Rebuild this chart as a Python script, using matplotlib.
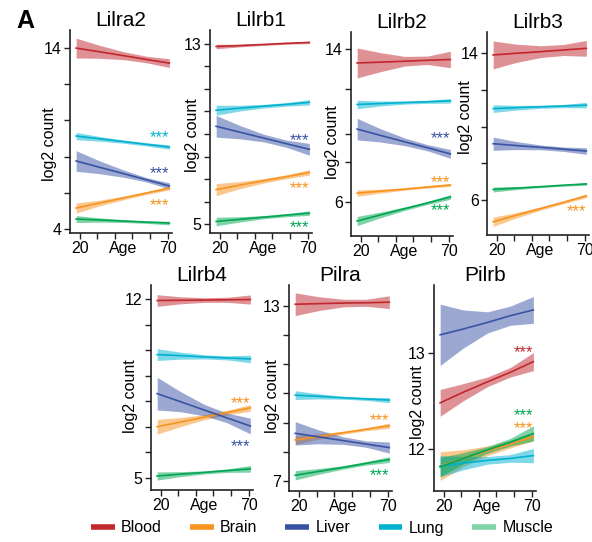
import matplotlib
matplotlib.use('Agg')
import matplotlib.pyplot as plt
from matplotlib.lines import Line2D

plt.rcParams['font.family'] = ['Liberation Sans', 'DejaVu Sans']

tissues = ['Blood', 'Brain', 'Liver', 'Lung', 'Muscle']
line_colors = ['#c1272d', '#f7931e', '#3953a4', '#00b2d0', '#00a651']
legend_colors = ['#c1272d', '#f7931e', '#3953a4', '#00b2d0', '#80d3a6']

ages = [18, 31, 45, 58, 71]

# fitted log2 count at each age, per tissue (Blood, Brain, Liver, Lung, Muscle)
# and half width of the confidence band at the same ages
lilra2_fit = [[14.0, 13.80, 13.58, 13.37, 13.17], [5.16, 5.43, 5.72, 5.99, 6.26],
              [7.76, 7.42, 7.06, 6.72, 6.38], [9.14, 8.99, 8.83, 8.68, 8.53],
              [4.55, 4.50, 4.44, 4.38, 4.33]]
lilra2_ci = [[0.55, 0.36, 0.22, 0.18, 0.24], [0.28, 0.16, 0.1, 0.08, 0.1],
             [0.57, 0.36, 0.2, 0.12, 0.17], [0.2, 0.13, 0.09, 0.09, 0.12],
             [0.19, 0.12, 0.08, 0.07, 0.1]]
lilra2_stars = {'Lung': 9.36, 'Liver': 7.37, 'Brain': 5.6}

lilrb1_fit = [[12.87, 12.91, 12.96, 13.01, 13.05], [6.54, 6.73, 6.93, 7.11, 7.3],
              [9.34, 9.09, 8.82, 8.57, 8.32], [10.05, 10.14, 10.23, 10.31, 10.4],
              [5.13, 5.22, 5.32, 5.41, 5.5]]
lilrb1_ci = [[0.1, 0.06, 0.04, 0.04, 0.05], [0.27, 0.16, 0.1, 0.09, 0.12],
             [0.48, 0.3, 0.17, 0.16, 0.26], [0.22, 0.13, 0.08, 0.08, 0.12],
             [0.19, 0.12, 0.07, 0.07, 0.1]]
lilrb1_stars = {'Liver': 8.94, 'Brain': 6.82, 'Muscle': 5.09}

lilrb2_fit = [[13.25, 13.29, 13.34, 13.39, 13.43], [6.48, 6.58, 6.69, 6.80, 6.9],
              [9.81, 9.49, 9.15, 8.84, 8.52], [11.09, 11.14, 11.19, 11.23, 11.28],
              [5.03, 5.34, 5.67, 5.97, 6.28]]
lilrb2_ci = [[0.78, 0.5, 0.25, 0.22, 0.43], [0.17, 0.1, 0.06, 0.06, 0.08],
             [0.56, 0.35, 0.2, 0.16, 0.23], [0.22, 0.13, 0.08, 0.08, 0.12],
             [0.24, 0.15, 0.09, 0.08, 0.12]]
lilrb2_stars = {'Liver': 9.6, 'Brain': 7.31, 'Muscle': 5.83}

lilrb3_fit = [[13.9, 13.99, 14.08, 14.17, 14.26], [4.82, 5.17, 5.54, 5.88, 6.23],
              [9.07, 8.97, 8.87, 8.77, 8.67], [10.98, 11.03, 11.08, 11.12, 11.17],
              [6.58, 6.65, 6.73, 6.81, 6.88]]
lilrb3_ci = [[0.76, 0.5, 0.32, 0.3, 0.43], [0.25, 0.15, 0.09, 0.08, 0.1],
             [0.36, 0.22, 0.13, 0.12, 0.18], [0.21, 0.13, 0.08, 0.09, 0.15],
             [0.14, 0.08, 0.05, 0.05, 0.07]]
lilrb3_stars = {'Brain': 5.63}

lilrb4_fit = [[11.95, 11.96, 11.97, 11.98, 11.99], [7.0, 7.18, 7.38, 7.56, 7.74],
              [8.3, 7.99, 7.65, 7.34, 7.03], [9.83, 9.79, 9.74, 9.70, 9.66],
              [5.07, 5.14, 5.21, 5.28, 5.35]]
lilrb4_ci = [[0.23, 0.14, 0.09, 0.1, 0.18], [0.29, 0.18, 0.1, 0.09, 0.13],
             [0.64, 0.4, 0.22, 0.19, 0.31], [0.23, 0.14, 0.08, 0.08, 0.15],
             [0.16, 0.1, 0.06, 0.07, 0.13]]
lilrb4_stars = {'Brain': 8.13, 'Liver': 6.43}

pilra_fit = [[13.06, 13.08, 13.10, 13.11, 13.13], [8.4, 8.52, 8.65, 8.77, 8.89],
             [8.63, 8.51, 8.38, 8.26, 8.14], [9.94, 9.90, 9.85, 9.81, 9.77],
             [7.19, 7.32, 7.46, 7.60, 7.73]]
pilra_ci = [[0.39, 0.24, 0.13, 0.12, 0.22], [0.15, 0.09, 0.05, 0.05, 0.09],
            [0.4, 0.24, 0.13, 0.11, 0.19], [0.15, 0.09, 0.05, 0.05, 0.09],
            [0.16, 0.1, 0.06, 0.06, 0.1]]
pilra_stars = {'Brain': 9.23, 'Muscle': 7.34}

pilrb_fit = [[12.48, 12.59, 12.70, 12.80, 12.91], [11.82, 11.90, 11.98, 12.05, 12.13],
             [13.19, 13.25, 13.32, 13.39, 13.45], [11.82, 11.85, 11.88, 11.90, 11.93],
             [11.81, 11.90, 11.99, 12.07, 12.16]]
pilrb_ci = [[0.14, 0.09, 0.05, 0.05, 0.094], [0.15, 0.09, 0.05, 0.04, 0.045],
            [0.32, 0.2, 0.11, 0.1, 0.14], [0.11, 0.07, 0.04, 0.04, 0.075],
            [0.1, 0.06, 0.035, 0.04, 0.08]]
pilrb_stars = {'Blood': 13.06, 'Muscle': 12.4, 'Brain': 12.27}

# y ticks and which of them carry a label
lilra2_yticks, lilra2_ylabels = [4, 6, 8, 10, 12, 14], ['4', '', '', '', '', '14']
lilrb1_yticks, lilrb1_ylabels = [5, 6, 7, 8, 9, 10, 11, 12, 13], ['5'] + [''] * 7 + ['13']
lilrb2_yticks, lilrb2_ylabels = [6, 8.08, 9.55, 11.92, 14], ['6', '', '', '', '14']
lilrb3_yticks, lilrb3_ylabels = [6, 8, 10, 12, 14], ['6', '', '', '', '14']
lilrb4_yticks, lilrb4_ylabels = [5, 6, 7, 8, 9, 10, 11, 12], ['5'] + [''] * 6 + ['12']
pilra_yticks, pilra_ylabels = [7, 8, 9, 10, 11, 12, 13], ['7'] + [''] * 5 + ['13']
pilrb_yticks, pilrb_ylabels = [12, 13], ['12', '13']

# name, fit, ci, stars, yticks, yticklabels, ylim, box in pixels (l, r, t, b), ylabel pos
panels = [
    ('Lilra2', lilra2_fit, lilra2_ci, lilra2_stars, lilra2_yticks, lilra2_ylabels,
     (3.78, 15.0), (70, 172, 30, 233), (-0.13, 0.44)),
    ('Lilrb1', lilrb1_fit, lilrb1_ci, lilrb1_stars, lilrb1_yticks, lilrb1_ylabels,
     (4.62, 13.6), (210, 312, 30, 233), (-0.10, 0.48)),
    ('Lilrb2', lilrb2_fit, lilrb2_ci, lilrb2_stars, lilrb2_yticks, lilrb2_ylabels,
     (4.25, 14.86), (351, 453, 32, 236), (-0.11, 0.46)),
    ('Lilrb3', lilrb3_fit, lilrb3_ci, lilrb3_stars, lilrb3_yticks, lilrb3_ylabels,
     (4.1, 15.15), (487, 589, 32, 235), (-0.14, 0.58)),
    ('Lilrb4', lilrb4_fit, lilrb4_ci, lilrb4_stars, lilrb4_yticks, lilrb4_ylabels,
     (4.52, 12.56), (151, 253, 285, 490), (-0.13, 0.46)),
    ('Pilra', pilra_fit, pilra_ci, pilra_stars, pilra_yticks, pilra_ylabels,
     (6.65, 13.72), (289, 392, 285, 491), (-0.09, 0.46)),
    ('Pilrb', pilrb_fit, pilrb_ci, pilrb_stars, pilrb_yticks, pilrb_ylabels,
     (11.56, 13.71), (434, 536, 285, 491), (-0.09, 0.43)),
]

W, H = 592, 542
fig = plt.figure(figsize=(W / 100, H / 100), dpi=100)

for name, fit, ci, stars, yticks, ylabels, ylim, box, lab in panels:
    l, r, t, b = box
    ax = fig.add_axes([l / W, 1 - b / H, (r - l) / W, (b - t) / H])
    for k, tissue in enumerate(tissues):
        lo = [v - h for v, h in zip(fit[k], ci[k])]
        hi = [v + h for v, h in zip(fit[k], ci[k])]
        ax.fill_between(ages, lo, hi, color=line_colors[k], alpha=0.5, lw=0)
        ax.plot(ages, fit[k], color=line_colors[k], lw=1.2)
    for tissue, yv in stars.items():
        ax.annotate('***', xy=(71, yv), xytext=(0, -7), textcoords='offset points',
                    color=line_colors[tissues.index(tissue)],
                    ha='right', va='baseline', fontsize=12)
    ax.set_xlim(14.5, 72.5)
    ax.set_ylim(*ylim)
    ax.set_xticks([20, 45, 70])
    ax.set_xticklabels(['20', 'Age', '70'], fontsize=11.5)
    ax.xaxis.get_major_ticks()[1].tick1line.set_visible(False)
    ax.set_xticks([30, 40, 50, 60], minor=True)
    ax.set_yticks(yticks)
    ax.set_yticklabels(ylabels, fontsize=11.5)
    ax.tick_params(which='both', length=4, width=1, color='#222222', pad=2)
    ax.spines['top'].set_visible(False)
    ax.spines['right'].set_visible(False)
    for s in ('left', 'bottom'):
        ax.spines[s].set_linewidth(1.2)
        ax.spines[s].set_color('#222222')
    ax.set_ylabel('log2 count', fontsize=11.5)
    ax.yaxis.set_label_coords(*lab)
    ax.set_title(name, fontsize=15, pad=1)

fig.text(25 / W, 1 - 21 / H, 'A', fontsize=18, fontweight='bold', ha='center', va='center')

handles = [Line2D([], [], color=c, lw=4, solid_capstyle='butt') for c in legend_colors]
fig.legend(handles, tissues, loc='center', bbox_to_anchor=(322 / W, 1 - 528 / H),
           ncol=5, frameon=False, fontsize=11.5, handlelength=1.5,
           handletextpad=0.4, columnspacing=1.75)

fig.savefig('out.png', dpi=100)
